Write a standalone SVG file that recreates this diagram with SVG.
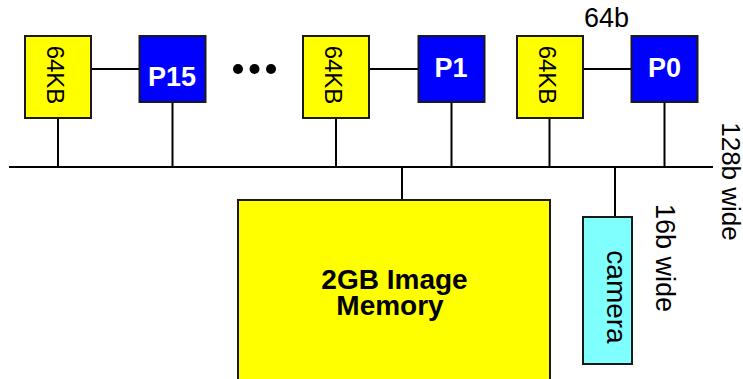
<svg xmlns="http://www.w3.org/2000/svg" width="743" height="379" viewBox="0 0 743 379">
<style>
.box{stroke:#1a1a1a;stroke-width:2}
.mem{fill:#ffff00}
.proc{fill:#0000ff}
.cam{fill:#80ffff}
.ln{stroke:#000;stroke-width:2;fill:none}
.t{font-family:"Liberation Sans",Arial,sans-serif;fill:#000}
.pt{font-family:"Liberation Sans",Arial,sans-serif;font-weight:bold;fill:#fff;font-size:27px;text-anchor:middle}
.kb{font-size:24px;text-anchor:middle}
</style>
<g id="connectors">
<line class="ln" x1="9" y1="167" x2="713" y2="167"/>
<line class="ln" x1="58" y1="118" x2="58" y2="167"/>
<line class="ln" x1="172.5" y1="102" x2="172.5" y2="167"/>
<line class="ln" x1="336" y1="118" x2="336" y2="167"/>
<line class="ln" x1="451.5" y1="102" x2="451.5" y2="167"/>
<line class="ln" x1="549.5" y1="118" x2="549.5" y2="167"/>
<line class="ln" x1="664.5" y1="102" x2="664.5" y2="167"/>
<line class="ln" x1="91" y1="69" x2="139" y2="69"/>
<line class="ln" x1="369" y1="69" x2="418" y2="69"/>
<line class="ln" x1="583" y1="69" x2="631" y2="69"/>
<line class="ln" x1="402" y1="167" x2="402" y2="200"/>
<line class="ln" x1="615" y1="167" x2="615" y2="217"/>
</g>
<g id="mem15">
<rect class="box mem" x="25" y="36" width="66" height="82"/>
<text class="t kb" transform="translate(47,75) rotate(90)">64KB</text>
</g>
<g id="p15">
<rect class="box proc" x="139.5" y="36" width="66" height="66"/>
<text class="pt" x="172" y="86">P15</text>
</g>
<g id="dots">
<circle cx="238" cy="69" r="5"/>
<circle cx="254.5" cy="69" r="5"/>
<circle cx="271" cy="69" r="5"/>
</g>
<g id="mem1">
<rect class="box mem" x="303" y="36" width="66" height="82"/>
<text class="t kb" transform="translate(325,75) rotate(90)">64KB</text>
</g>
<g id="p1">
<rect class="box proc" x="418.5" y="36" width="66" height="66"/>
<text class="pt" x="451" y="77">P1</text>
</g>
<g id="mem0">
<rect class="box mem" x="517" y="36" width="66" height="82"/>
<text class="t kb" transform="translate(539,75) rotate(90)">64KB</text>
</g>
<g id="p0">
<rect class="box proc" x="631.5" y="36" width="66" height="66"/>
<text class="pt" x="664.5" y="77">P0</text>
</g>
<g id="label64b">
<text class="t" x="606.5" y="27" font-size="27" text-anchor="middle">64b</text>
</g>
<g id="label128">
<text class="t" transform="translate(722,181.5) rotate(90)" font-size="26" text-anchor="middle">128b wide</text>
</g>
<g id="imagemem">
<rect class="box mem" x="238" y="200" width="312" height="190"/>
<text class="t" x="394.5" y="289" font-size="28" font-weight="bold" text-anchor="middle">2GB Image</text>
<text class="t" x="390" y="315" font-size="28" font-weight="bold" text-anchor="middle">Memory</text>
</g>
<g id="camera">
<rect class="box cam" x="583" y="217" width="49" height="147"/>
<text class="t" transform="translate(606.5,297) rotate(90)" font-size="28" text-anchor="middle">camera</text>
</g>
<g id="label16">
<text class="t" transform="translate(656,258) rotate(90)" font-size="27" text-anchor="middle">16b wide</text>
</g>
</svg>
